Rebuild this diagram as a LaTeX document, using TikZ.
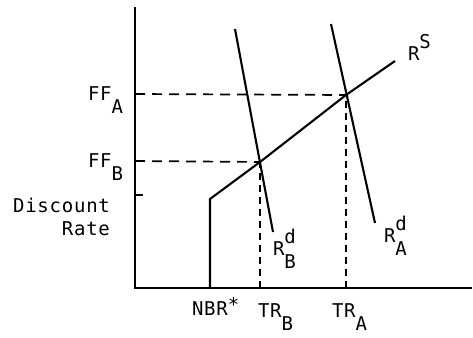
\documentclass[tikz,border=0pt]{standalone}
\usepackage{fontspec}
\newfontfamily\typefont[LetterSpace=4]{DejaVu Sans Mono}
\usetikzlibrary{calc}

% full-size lowered / raised letters as in the typed figure
\newcommand{\lo}[1]{\raisebox{-0.7em}{#1}}
\newcommand{\hi}[1]{\raisebox{0.58em}{#1}}
\newcommand{\hilo}[2]{\makebox[0pt][l]{\hi{#1}}\lo{#2}}

\begin{document}
\begin{tikzpicture}[x=1pt,y=-1pt, line width=2.1pt,
  every node/.style={font=\typefont\fontsize{19}{23}\selectfont, inner sep=0pt},
  hdash/.style={line width=1.7pt, dash pattern=on 10pt off 7pt},
  vdash/.style={line width=2.1pt, dash pattern=on 7pt off 5pt}]
  \useasboundingbox (0,0) rectangle (473,337);
  % axes
  \coordinate (ytop) at (135,7);
  \coordinate (O) at (135,288);
  \coordinate (xend) at (472,288);
  \draw (ytop) -- (O) -- (xend);
  % supply of reserves
  \coordinate (nbr) at (210,288);
  \coordinate (kink) at (210,199);
  \coordinate (EB) at (260,162);
  \coordinate (EA) at (346,95);
  \coordinate (send) at (395,61);
  \draw (nbr) -- (kink) -- (EB) -- (EA) -- (send);
  % demand curves
  \coordinate (dBtop) at (235,29);
  \coordinate (dBbot) at (273,232);
  \coordinate (dAtop) at (331,24);
  \coordinate (dAbot) at (375,223);
  \draw (dBtop) -- (dBbot);
  \draw (dAtop) -- (dAbot);
  % ticks
  \coordinate (tFFA) at (135,94);
  \coordinate (tFFB) at (135,161);
  \coordinate (tDR) at (135,195);
  \draw (tDR) -- ++(8,0);
  % guide lines
  \draw[hdash] (tFFA) -- (EA);
  \draw[hdash] (tFFB) -- (EB);
  \draw[vdash] (EB |- O) -- (EB);
  \draw[vdash] (EA |- O) -- (EA);
  % labels
  \node[anchor=base west] (ffa) at (87,100) {FF\lo{A}};
  \node[anchor=base west] (ffb) at (87,167) {FF\lo{B}};
  \node[anchor=base east, align=right] (dr) at (111,235) {Discount\\Rate};
  \node[anchor=base west] (nbrlbl) at (191,315) {NBR\raisebox{0.2em}{*}};
  \node[anchor=base west] (trb) at (257,317) {TR\lo{B}};
  \node[anchor=base west] (tra) at (331,317) {TR\lo{A}};
  \node[anchor=base west] (rs) at (407,60) {R\hi{S}};
  \node[anchor=base west] (rdb) at (272,255) {R\hilo{d}{B}};
  \node[anchor=base west] (rda) at (383,242) {R\hilo{d}{A}};
\end{tikzpicture}
\end{document}
